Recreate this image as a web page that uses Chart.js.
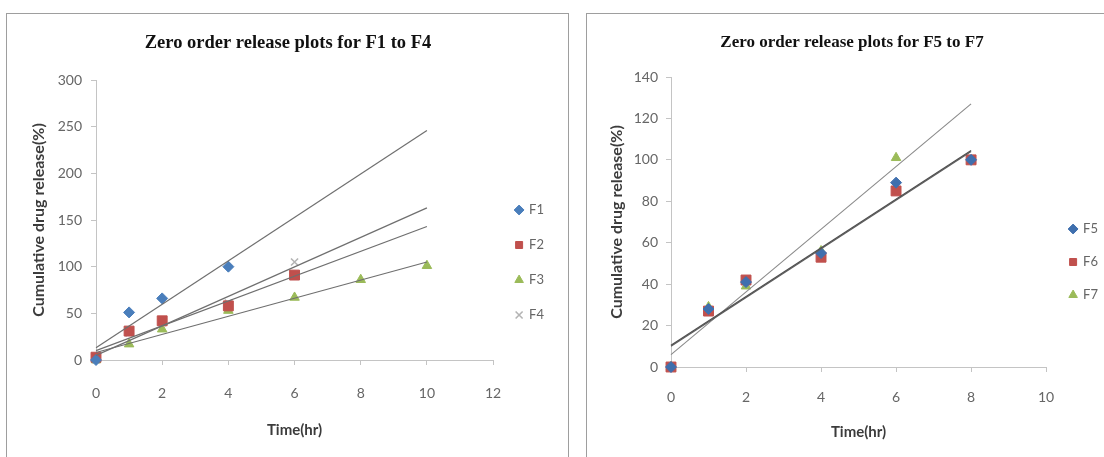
<!DOCTYPE html>
<html><head><meta charset="utf-8">
<script src="https://cdn.jsdelivr.net/npm/chart.js@4.4.1/dist/chart.umd.min.js"></script>
<style>
html,body{margin:0;padding:0;background:#fff;}
body{width:1104px;height:457px;overflow:hidden;position:relative;}
.frame{position:absolute;border:1px solid #9e9e9e;background:#fff;}
canvas{position:absolute;top:0;}
</style></head><body>
<div class="frame" style="left:6px;top:13px;width:561px;height:600px"></div>
<div class="frame" style="left:586px;top:13px;width:600px;height:600px"></div>
<canvas id="c1" width="560" height="525" style="left:0"></canvas>
<canvas id="c2" width="545" height="524" style="left:575px"></canvas>
<script>
// ---- data ----
const leftTitle = 'Zero order release plots for F1 to F4';
const rightTitle = 'Zero order release plots for F5 to F7';
const xTitle = 'Time(hr)';
const yTitle = 'Cumulative drug release(%)';

const leftNames = ['F1', 'F2', 'F3', 'F4'];
const leftTime = [0, 1, 2, 4, 6, 8, 10];
const f1 = [0, 51, 66, 100];
const f2 = [3, 31, 42, 58, 91];
const f3 = [0, 17, 33, 53, 67, 86, 101];
const f4 = [0, 29, 40, 61, 105];
const leftTrendTime = [0, 10];
const f1Trend = [13, 246];
const f2Trend = [10, 143];
const f3Trend = [8, 105];
const f4Trend = [5, 163];
const leftXTicks = [0, 2, 4, 6, 8, 10, 12];
const leftYTicks = [0, 50, 100, 150, 200, 250, 300];

const rightNames = ['F5', 'F6', 'F7'];
const rightTime = [0, 1, 2, 4, 6, 8];
const f5 = [0, 28, 41, 55, 89, 100];
const f6 = [0, 27, 42, 53, 85, 100];
const f7 = [0, 29, 39, 56, 101];
const rightTrendTime = [0, 8];
const f5Trend = [10.5, 104.5];
const f6Trend = [10, 104];
const f7Trend = [6, 127];
const rightXTicks = [0, 2, 4, 6, 8, 10];
const rightYTicks = [0, 20, 40, 60, 80, 100, 120, 140];

// ---- helpers ----
const pts = (xs, ys) => ys.map((y, i) => ({x: xs[i], y: y}));
const SANS = 'Lato, "Open Sans", sans-serif';
const SERIF = '"Liberation Serif", "Times New Roman", serif';

function marker(label, xs, ys, style, color, r) {
  return {label: label, data: pts(xs, ys), showLine: false, pointStyle: style,
    pointRadius: r, pointHoverRadius: r, backgroundColor: color, borderColor: color,
    borderWidth: style === 'crossRot' ? 1.6 : 1, order: 1, clip: false};
}
function trend(label, xs, ys, color, w) {
  return {label: label, trend: true, data: pts(xs, ys), showLine: true, pointRadius: 0,
    pointHoverRadius: 0, borderColor: color, backgroundColor: color, borderWidth: w,
    order: 0, clip: false};
}

function build(id, p) {
  return new Chart(document.getElementById(id), {
    type: 'scatter',
    data: {datasets: p.datasets},
    options: {
      responsive: false, animation: false, devicePixelRatio: 1,
      layout: {padding: {left: p.padL, right: p.padR, top: 0, bottom: 0}},
      plugins: {
        title: {display: true, text: p.title, color: '#111',
          font: {family: SERIF, size: p.titleSize, weight: 'bold'},
          padding: {top: p.tTop, bottom: p.tBottom}},
        legend: {position: 'right', align: 'center',
          labels: {usePointStyle: true, boxWidth: 7, boxHeight: 7, padding: p.legPad,
            color: '#666666', font: {family: SANS, size: 13},
            filter: (item, data) => !data.datasets[item.datasetIndex].trend}},
        tooltip: {enabled: false}
      },
      scales: {
        x: {type: 'linear', position: 'bottom',
          min: p.xTicks[0], max: p.xTicks[p.xTicks.length - 1],
          afterBuildTicks: s => { s.ticks = p.xTicks.map(v => ({value: v})); },
          afterFit: s => { s.height = p.xH; },
          grid: {display: true, drawOnChartArea: false, drawTicks: true, tickLength: 5, color: '#c4c4c4'},
          border: {display: true, color: '#c4c4c4', width: 1},
          ticks: {color: '#666666', font: {family: SANS, size: 14}, padding: p.xTickPad},
          title: {display: true, text: xTitle, color: '#3c3c3c',
            font: {family: SANS, size: 15, weight: 'bold'}, padding: {top: 0, bottom: p.xTitlePad}}},
        y: {type: 'linear', position: 'left',
          min: p.yTicks[0], max: p.yTicks[p.yTicks.length - 1],
          afterBuildTicks: s => { s.ticks = p.yTicks.map(v => ({value: v})); },
          afterFit: s => { s.width = p.yW; },
          grid: {display: true, drawOnChartArea: false, drawTicks: true, tickLength: 5, color: '#c4c4c4'},
          border: {display: true, color: '#c4c4c4', width: 1},
          ticks: {color: '#666666', font: {family: SANS, size: 14}, padding: p.yTickPad},
          title: {display: true, text: yTitle, color: '#3c3c3c',
            font: {family: SANS, size: 16, weight: 'bold'}, padding: {top: p.yTitlePad, bottom: 0}}},
        gap: {type: 'linear', position: 'right', display: true,
          grid: {display: false}, border: {display: false}, ticks: {display: false},
          afterFit: s => { s.width = p.gap; }}
      }
    }
  });
}

const BLUE = '#4a7ebb', RED = '#c0504d', GREEN = '#9bbb59', GREY = '#b4b4b4';

build('c1', {
  title: leftTitle, titleSize: 18.5, tTop: 32, tBottom: 25.8,
  padL: 22, padR: 6, legPad: 22, gap: 0.5,
  xTicks: leftXTicks, yTicks: leftYTicks,
  xH: 165, xTickPad: 20.5, xTitlePad: 86,
  yW: 74, yTickPad: 9, yTitlePad: 7.4,
  datasets: [
    marker(leftNames[0], leftTime, f1, 'rectRot', BLUE, 5.5),
    marker(leftNames[1], leftTime, f2, 'rect', RED, 7),
    marker(leftNames[2], leftTime, f3, 'triangle', GREEN, 5.5),
    marker(leftNames[3], leftTime, f4, 'crossRot', GREY, 5),
    trend('F1 trend', leftTrendTime, f1Trend, '#6f6f6f', 1.2),
    trend('F2 trend', leftTrendTime, f2Trend, '#6f6f6f', 1.2),
    trend('F3 trend', leftTrendTime, f3Trend, '#6f6f6f', 1.2),
    trend('F4 trend', leftTrendTime, f4Trend, '#6f6f6f', 1.2)
  ]
});

build('c2', {
  title: rightTitle, titleSize: 17, tTop: 32.8, tBottom: 23.8,
  padL: 21, padR: 12, legPad: 20, gap: 3.5,
  xTicks: rightXTicks, yTicks: rightYTicks,
  xH: 157, xTickPad: 17.5, xTitlePad: 83,
  yW: 75, yTickPad: 8, yTitlePad: 11.4,
  datasets: [
    marker(rightNames[0], rightTime, f5, 'rectRot', '#3f6fae', 5.5),
    marker(rightNames[1], rightTime, f6, 'rect', RED, 7),
    marker(rightNames[2], rightTime, f7, 'triangle', GREEN, 5.5),
    trend('F5 trend', rightTrendTime, f5Trend, '#505050', 1.3),
    trend('F6 trend', rightTrendTime, f6Trend, '#606060', 1.3),
    trend('F7 trend', rightTrendTime, f7Trend, '#8a8a8a', 1.1)
  ]
});
</script>
</body></html>
